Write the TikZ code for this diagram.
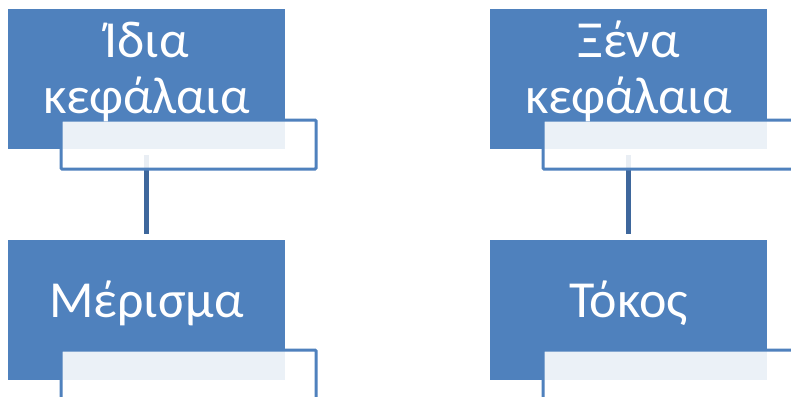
\documentclass[tikz,border=0pt]{standalone}
\usepackage{fontspec}
\setmainfont{Carlito}
\definecolor{accent}{HTML}{4F81BD}
\definecolor{connc}{HTML}{3E679C}
\begin{document}
\begin{tikzpicture}[x=1pt,y=-1pt,
  bluebox/.style={draw=none,fill=accent,minimum width=277pt,minimum height=140pt,inner sep=0pt,outer sep=0pt},
  subbox/.style={draw=accent,line width=3pt,fill=white,fill opacity=0.89,rounded corners=1pt,minimum width=255pt,minimum height=49pt,inner sep=0pt,outer sep=0pt},
  lbl/.style={text=white,font=\fontsize{52}{56}\selectfont,anchor=base,inner sep=0pt},
  conn/.style={draw=connc,line width=5pt,shorten <=6pt,shorten >=6pt}]
\clip (0,0) rectangle (791,396);
\fill[white] (0,0) rectangle (791,396);
% left column
\node[bluebox] (A) at (146.5,79) {};
\node[bluebox] (B) at (146.5,309.5) {};
\node[bluebox] (C) at (628.5,79) {};
\node[bluebox] (D) at (628.5,309.5) {};
\draw[conn] (A.south) -- (B.north);
\draw[conn] (C.south) -- (D.north);
\node[subbox] (As) at (188.5,144.5) {};
\node[subbox] (Bs) at (188.5,374.5) {};
\node[subbox] (Cs) at (670.5,144.5) {};
\node[subbox] (Ds) at (670.5,374.5) {};
\node[lbl] (A1) at (146.5,57) {Ίδια};
\node[lbl] (A2) at (146.5,113) {κεφάλαια};
\node[lbl] (B1) at (146.5,317) {Μέρισμα};
\node[lbl] (C1) at (628.5,57) {Ξένα};
\node[lbl] (C2) at (628.5,113) {κεφάλαια};
\node[lbl] (D1) at (628.5,317) {Τόκος};
\end{tikzpicture}
\end{document}
